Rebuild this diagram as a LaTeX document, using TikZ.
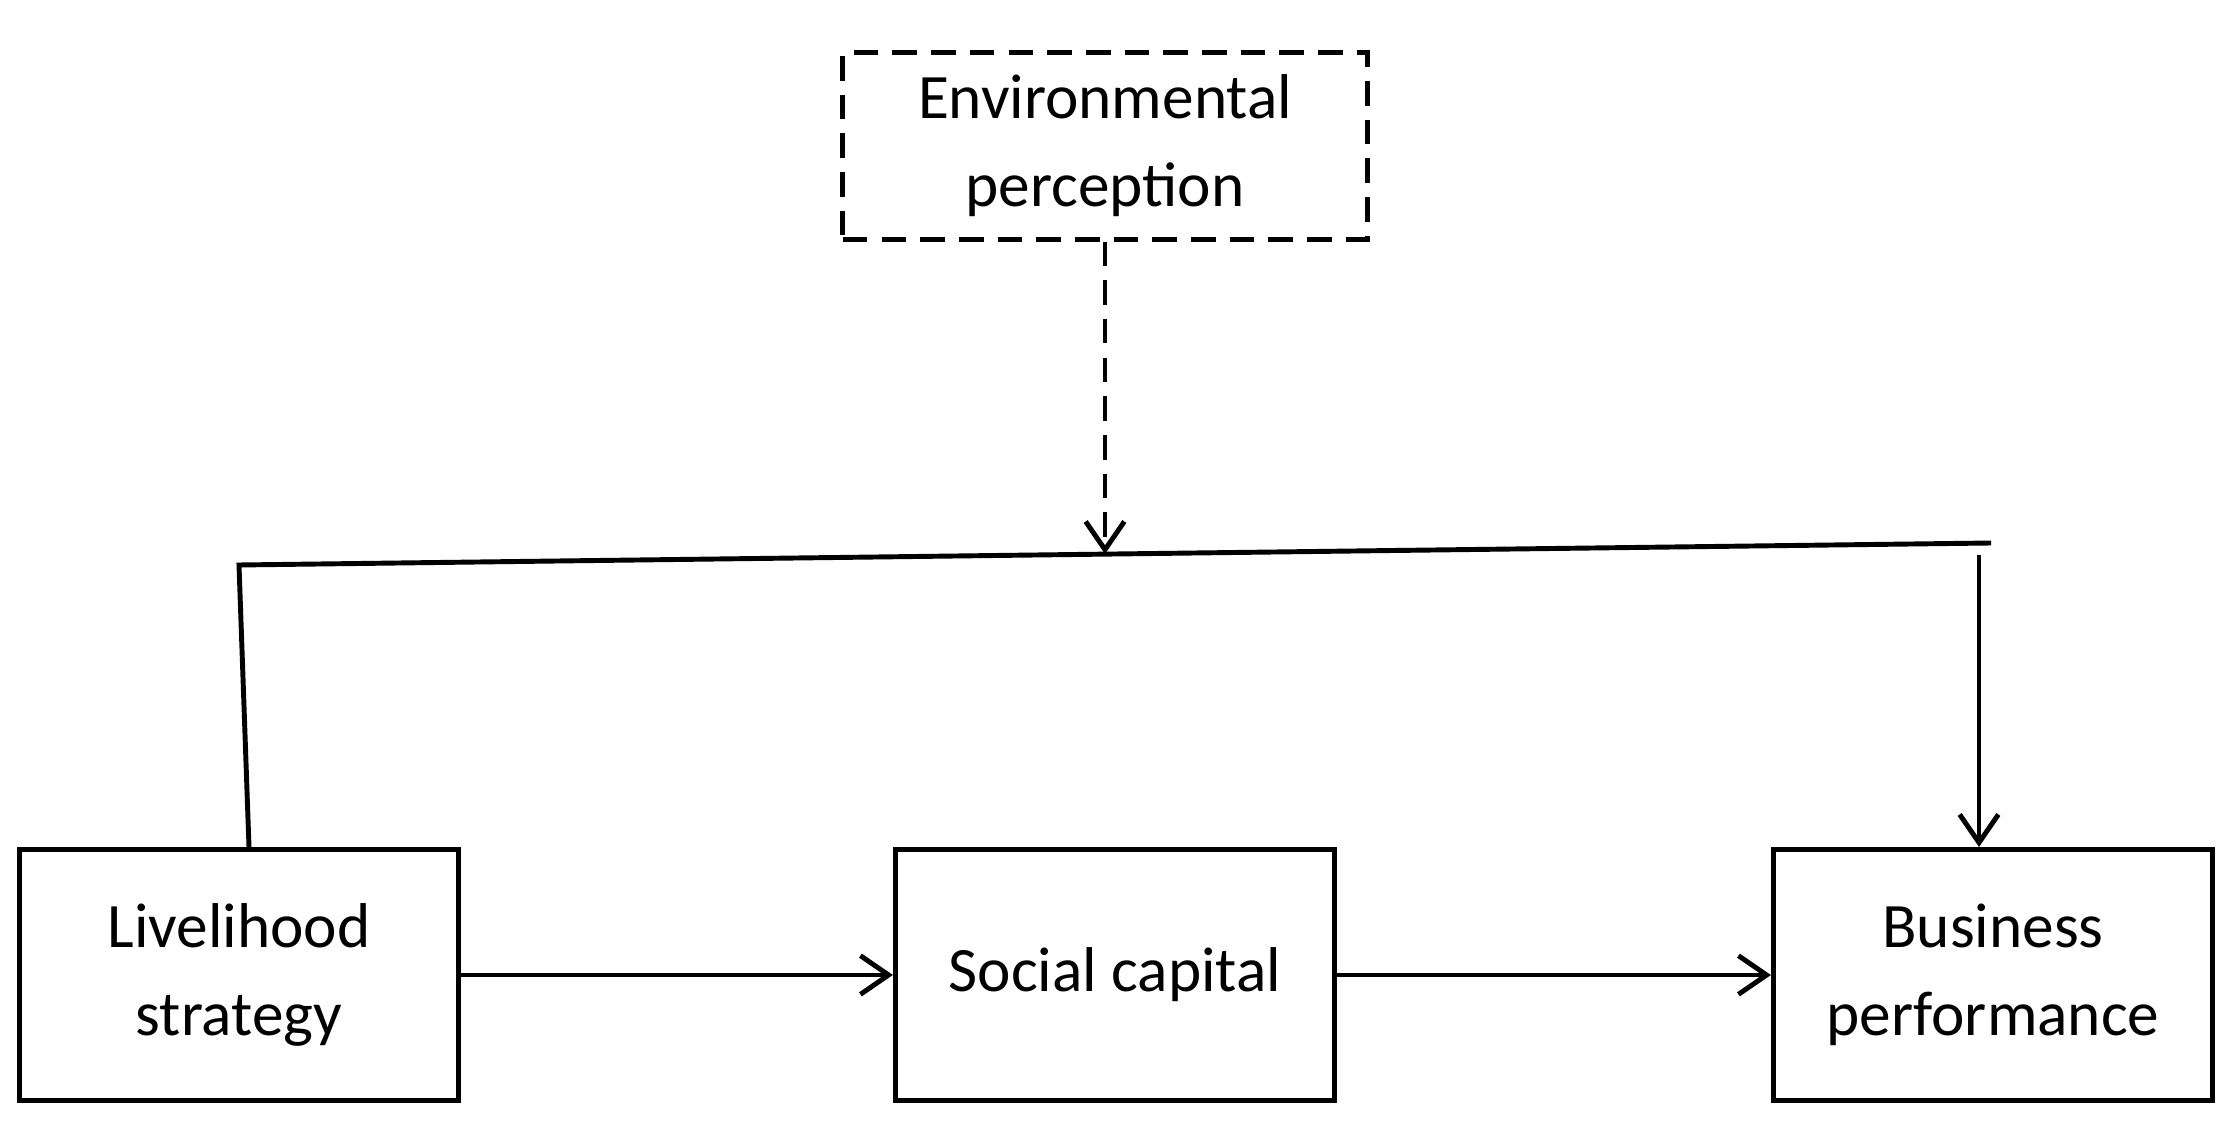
\documentclass[tikz,border=0pt]{standalone}
\usepackage{fontspec}
\setmainfont{Carlito}
\usetikzlibrary{arrows.meta}
\begin{document}
\begin{tikzpicture}[x=0.01cm,y=-0.01cm,
  box/.style={draw,line width=1.4pt,minimum width=4.39cm,minimum height=2.51cm,align=center,font=\fontsize{18}{25}\selectfont},
  dsh/.style={dash pattern=on 7pt off 4pt},
  arr/.style={line width=1.4pt,-{Straight Barb[length=8pt,width=11pt]}}]
\useasboundingbox (0,0) rectangle (2233,1128);
\node[box,dsh,minimum width=5.24cm,minimum height=1.86cm] (E) at (1105,146) {Environmental\\perception};
\node[box] (L) at (239,975) {Livelihood\\strategy};
\node[box] (S) at (1115,975) {Social capital};
\node[box] (B) at (1993,975) {Business\\performance};
\coordinate (TL) at (239,565);
\coordinate (TR) at (1991,543);
\coordinate (M) at (1105,554);
\coordinate (RT) at (1979,555);
\draw[line width=1.4pt] (L.north -| 249,0) -- (TL) -- (TR);
\draw[arr,dsh] (E.south) -- (M);
\draw[arr] (RT) -- (RT |- B.north);
\draw[arr] (L) -- (S);
\draw[arr] (S) -- (B);
\end{tikzpicture}
\end{document}
